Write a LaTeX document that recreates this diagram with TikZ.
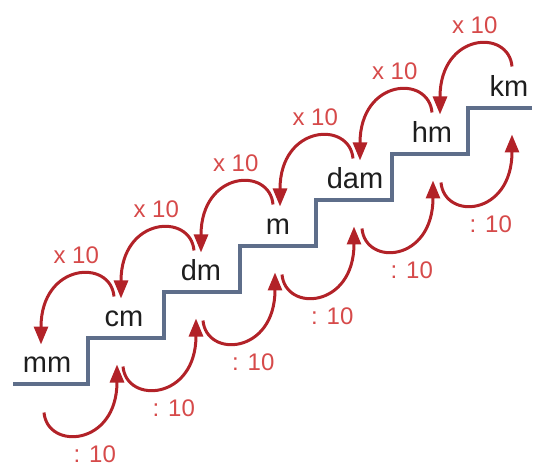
\documentclass[tikz,border=0pt]{standalone}
\usepackage{fontspec}
\setmainfont{Liberation Sans}
\usetikzlibrary{arrows.meta}
\definecolor{arrowred}{RGB}{178,34,40}
\definecolor{factorred}{RGB}{214,74,74}
\definecolor{stairblue}{RGB}{94,110,138}
\definecolor{unitgrey}{RGB}{30,30,30}
\tikzset{
  unit/.style={anchor=base, inner sep=0pt, text=unitgrey, font=\fontsize{29}{29}\selectfont},
  factor/.style={inner sep=0pt, text=factorred, font=\fontsize{24}{24}\selectfont},
  stair/.style={draw=stairblue, line width=4.5pt},
  times/.style={draw=arrowred, line width=3pt, -{Triangle[length=18pt,width=14pt]}, out=95, in=90, out distance=38pt, in distance=82pt},
  divide/.style={draw=arrowred, line width=3pt, -{Triangle[length=18pt,width=14pt]}, out=-85, in=-90, out distance=38pt, in distance=82pt}
}

\begin{document}
\begin{tikzpicture}[x=1pt,y=1pt]
\useasboundingbox (0,0) rectangle (538,469);
% the staircase
\draw[stair] (13,85) -| (88,131) -| (164,177) -| (240,223) -| (316,269) -| (392,315) -| (468,361) -- (532,361);
% units, one per step
\node[unit] (mm) at (47,96.5) {mm};
\node[unit] (cm) at (124,142.5) {cm};
\node[unit] (dm) at (201,188.5) {dm};
\node[unit] (m) at (278,234.5) {m};
\node[unit] (dam) at (355,280.5) {dam};
\node[unit] (hm) at (432,326.5) {hm};
\node[unit] (km) at (509,372.5) {km};
% going down: x 10
\draw[times] ([shift={(-10,30)}]cm.base) to node[factor, above=10pt] {x 10} ([shift={(-6,28)}]mm.base);
\draw[times] ([shift={(-7,30)}]dm.base) to node[factor, above=10pt] {x 10} ([shift={(-3,28)}]cm.base);
\draw[times] ([shift={(-5,30)}]m.base) to node[factor, above=10pt] {x 10} ([shift={(0,28)}]dm.base);
\draw[times] ([shift={(-2,30)}]dam.base) to node[factor, above=10pt] {x 10} ([shift={(2,28)}]m.base);
\draw[times] ([shift={(0,30)}]hm.base) to node[factor, above=10pt] {x 10} ([shift={(5,28)}]dam.base);
\draw[times] ([shift={(3,30)}]km.base) to node[factor, above=10pt] {x 10} ([shift={(8,28)}]hm.base);
% going up: : 10
\draw[divide] ([shift={(-3,-40)}]mm.base) to node[factor, below=11pt, xshift=13pt] {: 10} ([shift={(-7,-38)}]cm.base);
\draw[divide] ([shift={(-1,-40)}]cm.base) to node[factor, below=11pt, xshift=13pt] {: 10} ([shift={(-5,-38)}]dm.base);
\draw[divide] ([shift={(2,-40)}]dm.base) to node[factor, below=11pt, xshift=13pt] {: 10} ([shift={(-3,-38)}]m.base);
\draw[divide] ([shift={(4,-40)}]m.base) to node[factor, below=11pt, xshift=13pt] {: 10} ([shift={(-1,-38)}]dam.base);
\draw[divide] ([shift={(7,-40)}]dam.base) to node[factor, below=11pt, xshift=13pt] {: 10} ([shift={(1,-38)}]hm.base);
\draw[divide] ([shift={(9,-40)}]hm.base) to node[factor, below=11pt, xshift=13pt] {: 10} ([shift={(3,-38)}]km.base);
\end{tikzpicture}
\end{document}
